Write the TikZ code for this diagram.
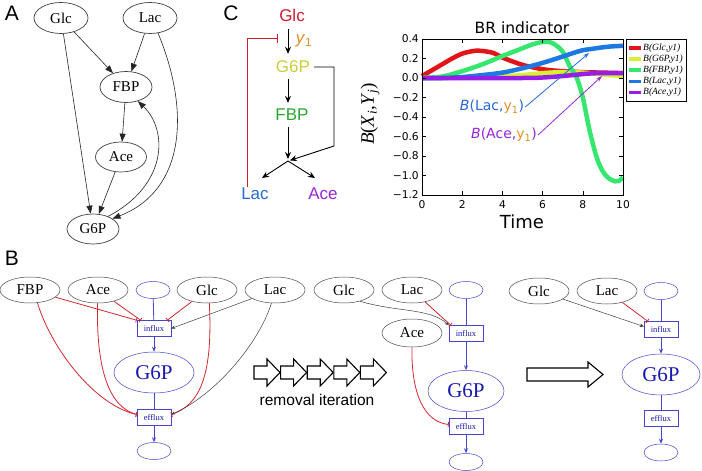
\documentclass[tikz,border=0pt]{standalone}
\usepackage{fontspec}
\setmainfont{Liberation Serif}
\newfontfamily\arialf{Liberation Sans}
\newfontfamily\dejav{DejaVu Sans}
\usetikzlibrary{arrows.meta,shapes.geometric,calc}
\definecolor{cRed}{RGB}{205,30,50}
\definecolor{cOrange}{RGB}{225,145,40}
\definecolor{cYel}{RGB}{205,205,60}
\definecolor{cGreen}{RGB}{45,165,50}
\definecolor{cBlue}{RGB}{40,105,215}
\definecolor{cPurple}{RGB}{150,40,215}
\definecolor{pRed}{RGB}{225,20,25}
\definecolor{pYel}{RGB}{215,240,50}
\definecolor{pGreen}{RGB}{55,230,110}
\definecolor{pBlue}{RGB}{30,120,225}
\definecolor{pPurple}{RGB}{150,30,230}
\definecolor{gBlue}{RGB}{70,70,205}
\definecolor{gBlueT}{RGB}{25,25,175}
\definecolor{gRed}{RGB}{210,40,50}
\tikzset{
  nodeA/.style={ellipse, draw=black!75, line width=0.7pt, minimum width=54pt, minimum height=31pt, inner sep=0pt, font=\fontsize{15}{15}\selectfont},
  arrA/.style={-{Triangle[length=8pt,width=6pt]}, draw=black!85, line width=0.6pt},
  ctext/.style={font=\arialf\fontsize{17}{17}\selectfont, inner sep=1pt},
  carr/.style={-{Stealth[length=7pt,width=6pt]}, line width=0.9pt},
  nodeB/.style={ellipse, draw=black!70, line width=0.5pt, minimum width=60pt, minimum height=26pt, inner sep=0pt, font=\fontsize{15}{15}\selectfont},
  dotB/.style={ellipse, draw=gBlue, line width=0.5pt, minimum width=34pt, minimum height=17pt, inner sep=0pt, font=\fontsize{4}{4}\selectfont, text=gBlue!50},
  rxn/.style={rectangle, draw=gBlue, line width=0.5pt, minimum width=34pt, minimum height=16pt, inner sep=0pt, text=gBlueT, font=\fontsize{8.5}{8.5}\selectfont},
  g6pB/.style={ellipse, draw=gBlue, line width=0.5pt, minimum width=78pt, minimum height=41pt, inner sep=0pt, text=gBlueT, font=\fontsize{21}{21}\selectfont},
  flow/.style={draw=gBlue, line width=0.8pt},
  flowa/.style={flow, -{Stealth[length=5pt,width=4pt]}},
  inhB/.style={draw=gRed, line width=0.8pt, -{Bar[width=5pt]}},
  actB/.style={draw=black!75, line width=0.5pt, -{Stealth[length=4pt,width=3.5pt]}},
  bigarr/.style={draw=black, line width=1.1pt, fill=white},
  series/.style={line width=4.5pt},
  lbl/.style={font=\arialf\fontsize{21}{21}\selectfont, inner sep=0pt},
  tick/.style={font=\dejav\fontsize{10.7}{10.7}\selectfont}
}
\begin{document}
\begin{tikzpicture}[x=1pt,y=-1pt]
\fill[white] (0,0) rectangle (702,471);
\useasboundingbox (0,0) rectangle (702,471);

% ---------- panel labels
\node[lbl] (labA) at (12,13) {A};
\node[lbl] (labB) at (12,258) {B};
\node[lbl] (labC) at (231,13) {C};

% ---------- Panel A
\node[nodeA] (glcA) at (61,18) {Glc};
\node[nodeA] (lacA) at (150,18) {Lac};
\node[nodeA, minimum width=52pt] (fbpA) at (126,87) {FBP};
\node[nodeA, minimum width=51pt, minimum height=30pt] (aceA) at (121,157) {Ace};
\node[nodeA, minimum width=52pt, minimum height=30pt] (g6pA) at (93,229) {G6P};
\draw[arrA] (glcA) -- (fbpA);
\draw[arrA] (lacA) -- (fbpA);
\draw[arrA] (fbpA) -- (aceA);
\draw[arrA] (aceA) -- (g6pA);
\draw[arrA] (glcA) -- (g6pA);
\draw[arrA] (lacA.-62) .. controls (190,110) and (186,190) .. (g6pA.28);
\draw[arrA] (g6pA.40) .. controls (168,185) and (168,130) .. (fbpA.-50);

% ---------- Panel C
\node[ctext, text=cRed] (glcC) at (292,15) {Glc};
\node[ctext, text=cOrange] (y1C) at (304,41) {\textit{y}\textsubscript{1}};
\node[ctext, text=cYel] (g6pC) at (293,67) {G6P};
\node[ctext, text=cGreen] (fbpC) at (292,115) {FBP};
\node[ctext, text=cBlue] (lacC) at (255,194) {Lac};
\node[ctext, text=cPurple] (aceC) at (323,194) {Ace};
\coordinate (jn) at (288,161);
\coordinate (cbend) at (334,146);
\coordinate (lacTip) at (262,178);
\coordinate (aceTip) at (315,178);
\coordinate (inhTop) at (247,38);
\coordinate (inhTip) at (278,38);
\draw[carr, shorten <=7pt, shorten >=6pt] (glcC.south -| jn) -- (g6pC.north -| jn);
\draw[carr, shorten <=5pt, shorten >=5pt] (g6pC.south -| jn) -- (fbpC.north -| jn);
\draw[carr, shorten <=5pt, shorten >=2pt] (fbpC.south -| jn) -- (jn);
\draw[carr, shorten <=3pt, shorten >=2pt] (g6pC.east) -| (cbend) -- (jn);
\draw[carr] (jn) -- (lacTip);
\draw[carr] (jn) -- (aceTip);
\draw[cRed, line width=1pt, -{Bar[width=9pt]}] (lacC.north -| inhTop) -- (inhTop) -- (inhTip);

% ---------- Plot
\node[font=\dejav\fontsize{15.5}{15.5}\selectfont] (ptitle) at (522,28) {BR indicator};
\node[font=\dejav\fontsize{18}{18}\selectfont] (ptime) at (522,222) {Time};
\node[rotate=90, font=\fontsize{19}{19}\selectfont] (ylab) at (370,114) {\textit{B}(\textit{X}\textsubscript{\textit{i}},\textit{Y}\textsubscript{\textit{j}})};
\begin{scope}[shift={(422,78)}, x=20.1pt, y=97.5pt]
  \draw[series, pRed] plot[smooth] coordinates {(0,0.02) (0.5,0.08) (1,0.14) (1.5,0.2) (2,0.25) (2.5,0.275) (2.85,0.28) (3.5,0.26) (4,0.21) (4.5,0.17) (5,0.135) (5.5,0.11) (6,0.09) (6.5,0.078) (7,0.07) (8,0.06) (9,0.055) (10,0.05)};
  \draw[series, pYel] plot[smooth] coordinates {(0,0) (3,0.005) (4,0.015) (5,0.03) (6,0.05) (7,0.06) (8,0.055) (9,0.035) (10,0.02)};
  \draw[series, pGreen] plot[smooth] coordinates {(0,0) (1,0.015) (2,0.07) (3,0.14) (4,0.225) (5,0.305) (5.5,0.345) (6,0.37) (6.3,0.37) (6.6,0.345) (7,0.27) (7.35,0.12) (7.7,0) (8,-0.2) (8.35,-0.55) (8.7,-0.82) (9,-0.96) (9.3,-1.03) (9.6,-1.06) (9.8,-1.055) (10,-1.02)};
  \draw[series, pBlue] plot[smooth] coordinates {(0,0) (1,0) (2,0.01) (3,0.03) (4,0.055) (5,0.1) (6,0.155) (7,0.22) (7.5,0.255) (8,0.285) (8.5,0.3) (9,0.315) (9.5,0.325) (10,0.33)};
  \draw[series, pPurple] plot[smooth] coordinates {(0,0) (5,0) (6,0.005) (7,0.02) (7.5,0.03) (8,0.04) (8.5,0.048) (9,0.05) (10,0.05)};
  \draw[black, line width=0.7pt] (0,-1.2) rectangle (10,0.4);
  \foreach \t in {0,2,...,10} {
    \draw[line width=0.5pt] (\t,-1.2) -- ++(0,0.04);
    \draw[line width=0.5pt] (\t,0.4) -- ++(0,-0.04);
    \node[tick, below, inner sep=5pt] (xt\t) at (\t,-1.2) {\t};
  }
  \foreach \v/\l [count=\k] in {0.4/0.4, 0.2/0.2, 0/0.0, -0.2/−0.2, -0.4/−0.4, -0.6/−0.6, -0.8/−0.8, -1.0/−1.0, -1.2/−1.2} {
    \draw[line width=0.5pt] (0,\v) -- ++(0.2,0);
    \draw[line width=0.5pt] (10,\v) -- ++(-0.2,0);
    \node[tick, left, inner sep=3pt] (yt\k) at (0,\v) {\l};
  }
\end{scope}
% annotations
\node[font=\dejav\fontsize{14}{14}\selectfont, text=cBlue, inner sep=1pt] (annLac) at (492,107) {\textit{B}(Lac,\textcolor{cOrange}{y\textsubscript{1}})};
\node[font=\dejav\fontsize{14}{14}\selectfont, text=cPurple, inner sep=1pt] (annAce) at (504,135) {\textit{B}(Ace,\textcolor{cOrange}{y\textsubscript{1}})};
\coordinate (tipLac) at (589,53);
\coordinate (tipAce) at (602,76);
\draw[cBlue, line width=0.8pt, -{Stealth[length=6pt,width=4pt]}] (annLac.east) -- (tipLac);
\draw[cPurple, line width=0.8pt, -{Stealth[length=6pt,width=4pt]}] (annAce.east) -- (tipAce);
% legend
\draw[line width=0.7pt, fill=white] (626,39) rectangle (686,101);
\foreach \c/\n [count=\k] in {pRed/Glc, pYel/G6P, pGreen/FBP, pBlue/Lac, pPurple/Ace} {
  \pgfmathsetmacro\yy{36.9+11.1*\k}
  \draw[\c, line width=3.5pt] (629,\yy) -- (641,\yy);
  \node[anchor=west, inner sep=0pt, font=\itshape\fontsize{9.5}{9.5}\selectfont] (leg\k) at (643,\yy) {B(\n,y1)};
}

% ---------- Panel B, graph 1
\node[nodeB] (fbpB) at (30,290) {FBP};
\node[nodeB] (aceB) at (98,290) {Ace};
\node[dotB] (d1a) at (153,290) {.};
\node[nodeB] (glcB) at (207,290) {Glc};
\node[nodeB] (lacB) at (275,290) {Lac};
\node[rxn] (in1) at (154,328.5) {influx};
\node[g6pB, minimum width=80pt] (g1) at (154,372.5) {G6P};
\node[rxn] (ef1) at (154,417.5) {efflux};
\node[dotB] (d1b) at (154,451) {.};
\draw[flow] (d1a) -- (in1);
\draw[flowa] (in1) -- (g1);
\draw[flow] (g1) -- (ef1);
\draw[flowa] (ef1) -- (d1b);
\draw[inhB] (fbpB) -- (in1.north west);
\draw[inhB] (aceB) -- ([xshift=4pt]in1.north west);
\draw[inhB] (glcB) -- ([xshift=-4pt]in1.north east);
\draw[actB] (lacB) -- (in1.east);
\draw[inhB] (fbpB.-60) .. controls (52,350) and (95,405) .. ([yshift=3pt]ef1.west);
\draw[inhB] (aceB.-92) .. controls (96,372) and (110,407) .. ([yshift=3pt]ef1.west);
\draw[inhB] (glcB.-80) .. controls (213,375) and (200,405) .. ([yshift=3pt]ef1.east);
\draw[actB] (lacB.-105) .. controls (258,345) and (215,395) .. ([yshift=3pt]ef1.east);

% ---------- graph 2
\node[nodeB] (glc2) at (344,290) {Glc};
\node[nodeB] (lac2) at (412,290) {Lac};
\node[dotB] (d2a) at (466,290) {.};
\node[nodeB, minimum height=28pt] (ace2) at (412,333) {Ace};
\node[rxn] (in2) at (466,333.5) {influx};
\node[g6pB, minimum width=76pt] (g2) at (466,391) {G6P};
\node[rxn] (ef2) at (466,426.5) {efflux};
\node[dotB] (d2b) at (466,462) {.};
\draw[flow] (d2a) -- (in2);
\draw[flowa] (in2) -- (g2);
\draw[flow] (g2) -- (ef2);
\draw[flowa] (ef2) -- (d2b);
\draw[actB] (glc2.-35) .. controls (395,312) and (430,308) .. (in2.north west);
\draw[inhB] (lac2) -- ([xshift=2pt]in2.north west);
\draw[inhB] (ace2.south) .. controls (411,395) and (425,422) .. ([yshift=2pt]ef2.west);

% removal arrows
\foreach \i in {0,...,4} {
  \pgfmathsetmacro\xa{254+26.6*\i}
  \draw[bigarr] (\xa,366) -- ++(13,0) -- ++(0,-7) -- ++(13,13.5) -- ++(-13,13.5) -- ++(0,-7) -- ++(-13,0) -- cycle;
}
\node[font=\arialf\fontsize{15.5}{15.5}\selectfont] (remtxt) at (317,400) {removal iteration};

% ---------- graph 3
\node[nodeB] (glc3) at (539,291) {Glc};
\node[nodeB] (lac3) at (607,291) {Lac};
\node[dotB] (d3a) at (661,291) {.};
\node[rxn] (in3) at (661,329.5) {influx};
\node[g6pB] (g3) at (661,374.5) {G6P};
\node[rxn] (ef3) at (661,418.5) {efflux};
\node[dotB] (d3b) at (661,452.5) {.};
\draw[flow] (d3a) -- (in3);
\draw[flowa] (in3) -- (g3);
\draw[flow] (g3) -- (ef3);
\draw[flowa] (ef3) -- (d3b);
\draw[actB] (glc3) -- ([yshift=3pt]in3.west);
\draw[inhB] (lac3) -- ([xshift=4pt]in3.north west);

% big right arrow
\draw[bigarr] (527,368) -- (588,368) -- (588,362) -- (603,374.5) -- (588,387) -- (588,381) -- (527,381) -- cycle;
\end{tikzpicture}
\end{document}
